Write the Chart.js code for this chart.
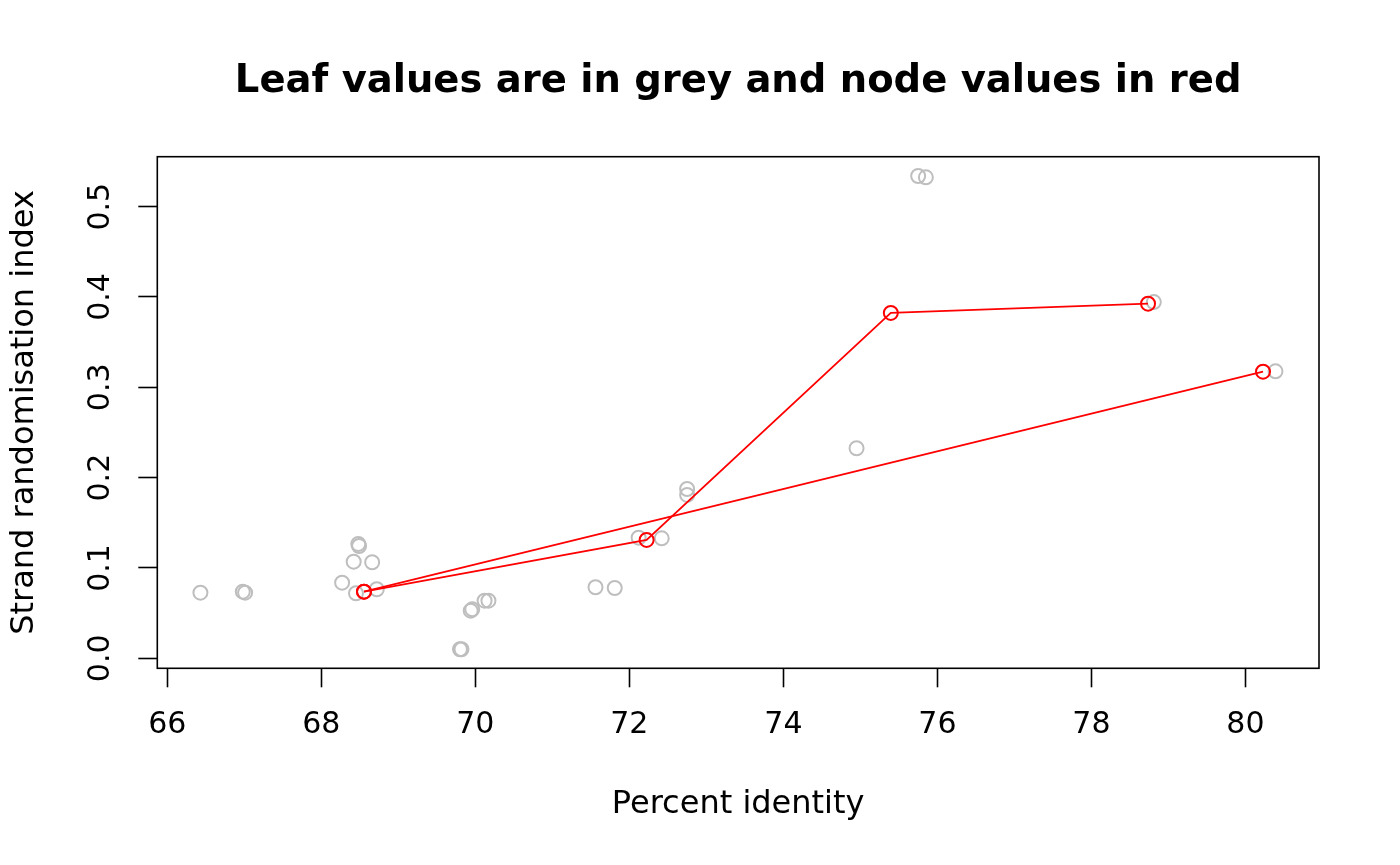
<!DOCTYPE html>
<html>
<head>
<meta charset="utf-8">
<script src="https://cdn.jsdelivr.net/npm/chart.js@4.4.1/dist/chart.umd.min.js"></script>
<style>
  html, body { margin: 0; padding: 0; background: #ffffff; }
  #wrap { width: 1400px; height: 865px; }
</style>
</head>
<body>
<div id="wrap"><canvas id="c" width="1400" height="865"></canvas></div>
<script>
// ---- data ----
const chartTitle = "Leaf values are in grey and node values in red";
const xLabel = "Percent identity";
const yLabel = "Strand randomisation index";

const leafX = [66.43, 66.98, 67.01, 68.27, 68.42, 68.48, 68.49, 68.66, 68.45, 68.72,
               69.94, 69.96, 70.12, 70.17, 69.80, 69.82, 71.56, 71.81, 72.12, 72.42,
               72.75, 72.75, 74.95, 75.75, 75.85, 78.81, 80.39];
const leafY = [0.0726, 0.0737, 0.0726, 0.0837, 0.1069, 0.1265, 0.1243, 0.1063, 0.0720, 0.0764,
               0.0527, 0.0542, 0.0638, 0.0638, 0.0100, 0.0100, 0.0786, 0.0778, 0.1335, 0.1328,
               0.1874, 0.1808, 0.2325, 0.5339, 0.5325, 0.3944, 0.3177];

const nodeX = [68.554, 72.224, 75.395, 78.735, 80.228];
const nodeY = [0.0737, 0.1310, 0.3823, 0.3926, 0.3173];

// branches connecting nodes (indices into node arrays)
const branchA = [0, 1, 2, 3];
const branchB = [0, 4];

const xTicks = [66, 68, 70, 72, 74, 76, 78, 80];
const yTicks = [0.0, 0.1, 0.2, 0.3, 0.4, 0.5];
const xRange = [65.87, 80.955];
const yRange = [-0.0111, 0.5553];

// ---- build chart ----
const toPts = (xs, ys) => xs.map((x, i) => ({ x: x, y: ys[i] }));
const branchPts = idx => idx.map(i => ({ x: nodeX[i], y: nodeY[i] }));

const FONT = "'DejaVu Sans', 'Liberation Sans', sans-serif";

const boxPlugin = {
  id: 'rbox',
  afterDraw(chart) {
    const { ctx, chartArea: a } = chart;
    ctx.save();
    ctx.strokeStyle = '#000';
    ctx.lineWidth = 1.6;
    ctx.strokeRect(a.left, a.top, a.right - a.left, a.bottom - a.top);
    ctx.restore();
  }
};

const redStyle = {
  xAxisID: 'x',
  yAxisID: 'y',
  showLine: true,
  borderColor: '#ff0000',
  borderWidth: 1.8,
  pointRadius: 7,
  pointHoverRadius: 7,
  pointBorderWidth: 2,
  pointBorderColor: '#ff0000',
  pointBackgroundColor: 'rgba(0,0,0,0)',
  backgroundColor: 'rgba(0,0,0,0)',
  fill: false,
  tension: 0
};

new Chart(document.getElementById('c'), {
  type: 'scatter',
  data: {
    datasets: [
      Object.assign({ label: 'nodes A', data: branchPts(branchA) }, redStyle),
      Object.assign({ label: 'nodes B', data: branchPts(branchB) }, redStyle),
      {
        label: 'leaves',
        xAxisID: 'x',
        yAxisID: 'y',
        data: toPts(leafX, leafY),
        showLine: false,
        pointRadius: 7,
        pointHoverRadius: 7,
        pointBorderWidth: 2,
        pointBorderColor: '#bebebe',
        pointBackgroundColor: 'rgba(0,0,0,0)',
        borderColor: '#bebebe',
        backgroundColor: 'rgba(0,0,0,0)'
      }
    ]
  },
  options: {
    responsive: false,
    animation: false,
    devicePixelRatio: 1,
    layout: { padding: { left: 0, right: 81, top: 0, bottom: 0 } },
    plugins: {
      legend: { display: false },
      tooltip: { enabled: false },
      title: { display: false }
    },
    scales: {
      x: {
        type: 'linear',
        position: 'bottom',
        min: xRange[0],
        max: xRange[1],
        afterBuildTicks: s => { s.ticks = xTicks.map(v => ({ value: v })); },
        afterFit: s => { s.height = 865 - 668.3; },
        ticks: {
          color: '#000',
          font: { family: FONT, size: 30 },
          padding: 20,
          maxRotation: 0,
          autoSkip: false,
          callback: v => String(v)
        },
        grid: {
          drawOnChartArea: false,
          drawTicks: true,
          tickLength: 19,
          tickWidth: 1.6,
          tickColor: '#000'
        },
        border: { display: false },
        title: {
          display: true,
          text: xLabel,
          color: '#000',
          font: { family: FONT, size: 32, lineHeight: 1.2 },
          padding: { top: 0, bottom: 41 }
        }
      },
      xTop: {
        type: 'linear',
        position: 'top',
        min: xRange[0],
        max: xRange[1],
        afterFit: s => { s.height = 156.7; },
        ticks: { display: false },
        grid: { display: false, drawTicks: false },
        border: { display: false },
        title: {
          display: true,
          text: chartTitle,
          color: '#000',
          font: { family: FONT, size: 38.5, weight: 'bold', lineHeight: 1.2 },
          padding: { top: 59, bottom: 0 }
        }
      },
      y: {
        type: 'linear',
        position: 'left',
        min: yRange[0],
        max: yRange[1],
        afterBuildTicks: s => { s.ticks = yTicks.map(v => ({ value: v })); },
        afterFit: s => { s.width = 157.3; },
        ticks: {
          color: '#000',
          font: { family: FONT, size: 30 },
          padding: 13,
          minRotation: 90,
          maxRotation: 90,
          crossAlign: 'center',
          autoSkip: false,
          callback: v => v.toFixed(1)
        },
        grid: {
          drawOnChartArea: false,
          drawTicks: true,
          tickLength: 19,
          tickWidth: 1.6,
          tickColor: '#000'
        },
        border: { display: false },
        title: {
          display: true,
          text: yLabel,
          color: '#000',
          font: { family: FONT, size: 32, lineHeight: 1.2 },
          padding: { top: 5, bottom: 0 }
        }
      }
    }
  },
  plugins: [boxPlugin]
});
</script>
</body>
</html>
